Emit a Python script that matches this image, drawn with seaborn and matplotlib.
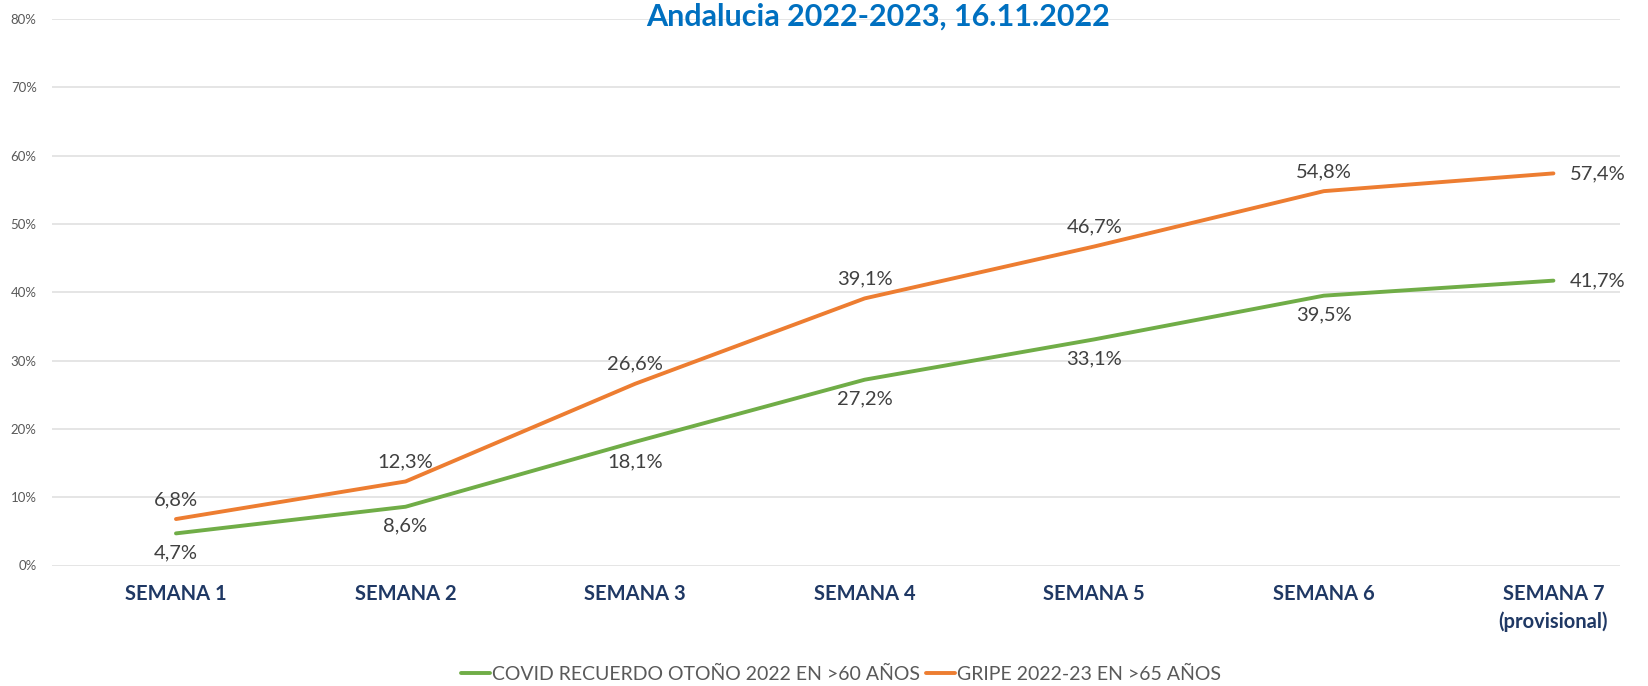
import matplotlib
matplotlib.use("Agg")
import matplotlib.pyplot as plt
import seaborn as sns
import pandas as pd

# data
semanas = ["SEMANA 1", "SEMANA 2", "SEMANA 3", "SEMANA 4", "SEMANA 5", "SEMANA 6",
           "SEMANA 7\n(provisional)"]
covid = [4.7, 8.6, 18.1, 27.2, 33.1, 39.5, 41.7]
gripe = [6.8, 12.3, 26.6, 39.1, 46.7, 54.8, 57.4]
series_names = ["COVID RECUERDO OTOÑO 2022 EN >60 AÑOS", "GRIPE 2022-23 EN >65 AÑOS"]
y_ticks = [0, 10, 20, 30, 40, 50, 60, 70, 80]
title = "Andalucia 2022-2023, 16.11.2022"

green = "#70AD47"
orange = "#ED7D31"

df = pd.DataFrame({
    "semana": list(range(len(semanas))) * 2,
    "valor": covid + gripe,
    "serie": [series_names[0]] * len(covid) + [series_names[1]] * len(gripe),
})

sns.set_theme(style="white")
plt.rcParams["font.family"] = ["Lato", "DejaVu Sans"]

W, H = 1648, 686
fig = plt.figure(figsize=(W / 100, H / 100), dpi=100)
fig.patch.set_facecolor("white")
ax = fig.add_axes([52 / W, 1 - 565.5 / H, (1620 - 52) / W, (565.5 - 19) / H])

sns.lineplot(data=df, x="semana", y="valor", hue="serie",
             palette=[green, orange], linewidth=2.8, ax=ax, legend=True)

ax.set_xlim(-0.54, 6.29)
ax.set_ylim(0, 80)
ax.set_yticks(y_ticks)
ax.set_yticklabels([f"{v}%" for v in y_ticks], fontsize=9.5, color="#595959")
ax.set_xticks(range(len(semanas)))
ax.set_xticklabels(semanas, fontsize=14.5, fontweight="bold", color="#1F3864",
                   linespacing=1.5)
ax.tick_params(axis="x", length=0, pad=13)
ax.tick_params(axis="y", length=0, pad=11)
ax.grid(axis="y", color="#E3E3E3", linewidth=1.3)
ax.set_axisbelow(True)
for s in ax.spines.values():
    s.set_visible(False)
ax.set_xlabel("")
ax.set_ylabel("")

fmt = lambda v: f"{v:.1f}%".replace(".", ",")
last = len(semanas) - 1
lab_kw = dict(textcoords="offset points", fontsize=14.5, color="#404040")
for i, v in enumerate(gripe):
    if i == last:
        ax.annotate(fmt(v), (i, v), xytext=(12, 0), ha="left", va="center", **lab_kw)
    else:
        ax.annotate(fmt(v), (i, v), xytext=(0, 8), ha="center", va="bottom", **lab_kw)
for i, v in enumerate(covid):
    if i == last:
        ax.annotate(fmt(v), (i, v), xytext=(12, 0), ha="left", va="center", **lab_kw)
    else:
        ax.annotate(fmt(v), (i, v), xytext=(0, -8), ha="center", va="top", **lab_kw)

leg = ax.legend(loc="center", bbox_to_anchor=(841 / W, 1 - 674 / H),
                bbox_transform=fig.transFigure, ncol=2, frameon=False,
                fontsize=14, handlelength=1.5, handletextpad=0.1, columnspacing=0.3)
for t in leg.get_texts():
    t.set_color("#595959")

fig.text(878 / W, 1 - 3 / H, title, ha="center", va="top",
         fontsize=22, fontweight="bold", color="#0070C0")

fig.savefig("out.png", dpi=100, facecolor="white")
